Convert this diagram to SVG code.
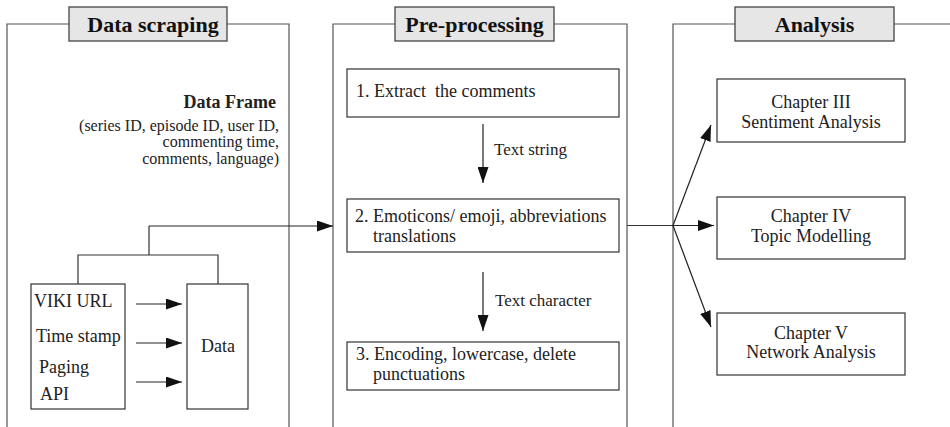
<svg xmlns="http://www.w3.org/2000/svg" width="950" height="427" viewBox="0 0 950 427">
<defs>
<marker id="ah" markerUnits="userSpaceOnUse" markerWidth="16" markerHeight="11" refX="16" refY="5.5" orient="auto">
<path d="M0,0 L16,5.5 L0,11 Z" fill="#111"/>
</marker>
<style>
svg text, text, .t, .h{font-family:'Liberation Serif','Times New Roman',serif !important;}
.t{fill:#222;}
.h{font-weight:bold;font-size:22px;fill:#111;text-anchor:middle;}
.panel{fill:none;stroke:#555;stroke-width:1.2;}
.hb{fill:#e6e6e6;stroke:#444;stroke-width:1.3;}
.box{fill:#fff;stroke:#333;stroke-width:1.2;}
.ln{fill:none;stroke:#333;stroke-width:1.2;}
.ar{fill:none;stroke:#222;stroke-width:1.2;marker-end:url(#ah);}
</style>
</defs>
<rect width="950" height="427" fill="#fff"/>

<g id="panel-data-scraping">
<path class="panel" d="M7,427 V24 H69 M227,24 H289 V427"/>
<rect class="hb" x="69" y="7" width="158" height="34"/>
<text class="h" font-family="Liberation Serif" x="153" y="32">Data scraping</text>
<text class="t" font-family="Liberation Serif" x="276" y="108" font-size="18" font-weight="bold" text-anchor="end" fill="#111">Data Frame</text>
<text class="t" font-family="Liberation Serif" x="279" y="131" font-size="16" text-anchor="end">(series ID, episode ID, user ID,</text>
<text class="t" font-family="Liberation Serif" x="279" y="147" font-size="16" text-anchor="end">commenting time,</text>
<text class="t" font-family="Liberation Serif" x="279" y="164" font-size="16" text-anchor="end">comments, language)</text>
</g>

<g id="node-sources">
<rect class="box" x="31" y="284" width="94" height="125"/>
<text class="t" font-family="Liberation Serif" x="34" y="307" font-size="18">VIKI URL</text>
<text class="t" font-family="Liberation Serif" x="36" y="342" font-size="18">Time stamp</text>
<text class="t" font-family="Liberation Serif" x="39" y="373" font-size="18">Paging</text>
<text class="t" font-family="Liberation Serif" x="40" y="400" font-size="18">API</text>
</g>

<g id="node-data">
<rect class="box" x="187" y="284" width="61" height="125"/>
<text class="t" font-family="Liberation Serif" x="218" y="352" font-size="18" text-anchor="middle">Data</text>
</g>

<g id="panel-pre-processing">
<path class="panel" d="M333,427 V24 H395 M554,24 H627 V427"/>
<rect class="hb" x="395" y="7" width="159" height="34"/>
<text class="h" font-family="Liberation Serif" x="474.5" y="32">Pre-processing</text>
</g>

<g id="node-step1">
<rect class="box" x="347" y="69" width="272" height="48"/>
<text class="t" font-family="Liberation Serif" x="356" y="97" font-size="18" xml:space="preserve">1. Extract  the comments</text>
</g>

<g id="node-step2">
<rect class="box" x="347" y="199" width="272" height="53"/>
<text class="t" font-family="Liberation Serif" x="355" y="222" font-size="18">2. Emoticons/ emoji, abbreviations</text>
<text class="t" font-family="Liberation Serif" x="373" y="242" font-size="18">translations</text>
</g>

<g id="node-step3">
<rect class="box" x="347" y="342" width="272" height="48"/>
<text class="t" font-family="Liberation Serif" x="356" y="360" font-size="18">3. Encoding, lowercase, delete</text>
<text class="t" font-family="Liberation Serif" x="373" y="380" font-size="18">punctuations</text>
</g>

<g id="panel-analysis">
<path class="panel" d="M673,427 V24 H735 M894,24 H950"/>
<rect class="hb" x="735" y="7" width="159" height="34"/>
<text class="h" font-family="Liberation Serif" x="814.5" y="32">Analysis</text>
</g>

<g id="node-ch3">
<rect class="box" x="717" y="79" width="188" height="63"/>
<text class="t" font-family="Liberation Serif" x="811" y="108" font-size="18" text-anchor="middle">Chapter III</text>
<text class="t" font-family="Liberation Serif" x="811" y="128" font-size="18" text-anchor="middle">Sentiment Analysis</text>
</g>

<g id="node-ch4">
<rect class="box" x="717" y="197" width="188" height="62"/>
<text class="t" font-family="Liberation Serif" x="811" y="222" font-size="18" text-anchor="middle">Chapter IV</text>
<text class="t" font-family="Liberation Serif" x="811" y="242" font-size="18" text-anchor="middle">Topic Modelling</text>
</g>

<g id="node-ch5">
<rect class="box" x="717" y="313" width="188" height="62"/>
<text class="t" font-family="Liberation Serif" x="811" y="339" font-size="18" text-anchor="middle">Chapter V</text>
<text class="t" font-family="Liberation Serif" x="811" y="358" font-size="18" text-anchor="middle">Network Analysis</text>
</g>

<g id="connectors">
<path class="ln" d="M78,284 V255 H218 V284 M149,255 V226"/>
<path class="ar" d="M149,226 H333"/>
<path class="ar" d="M136,304 H182"/>
<path class="ar" d="M136,343 H182"/>
<path class="ar" d="M136,382 H182"/>
<path class="ar" d="M483,124 V183"/>
<text class="t" font-family="Liberation Serif" x="494" y="155" font-size="17">Text string</text>
<path class="ar" d="M483,272 V331"/>
<text class="t" font-family="Liberation Serif" x="495" y="306" font-size="17">Text character</text>
<path class="ln" d="M627,225.5 H673"/>
<path class="ar" d="M673,225.5 L711,125"/>
<path class="ar" d="M673,225.5 H714"/>
<path class="ar" d="M673,225.5 L711,327"/>
</g>
</svg>
